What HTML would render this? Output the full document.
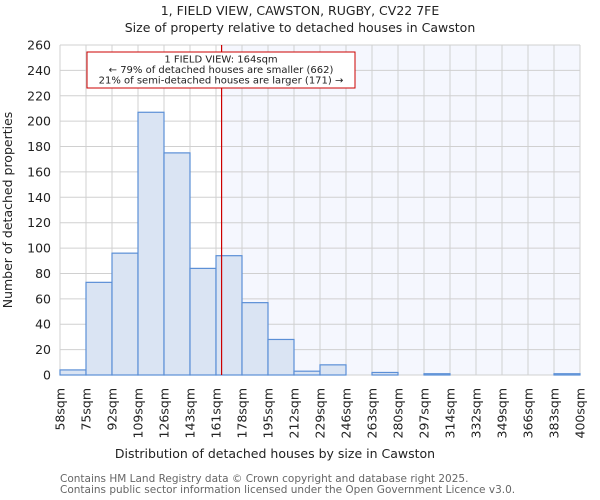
<!DOCTYPE html>
<html><head><meta charset="utf-8"><style>
body{margin:0;background:#fff;}
svg{display:block;font-family:"DejaVu Sans","Liberation Sans",sans-serif;}
</style></head><body>
<svg id="chart" width="600" height="500">
<text x="300" y="15" text-anchor="middle" font-size="12.5" fill="#222">1, FIELD VIEW, CAWSTON, RUGBY, CV22 7FE</text>
<text x="300" y="32" text-anchor="middle" font-size="12.5" fill="#222">Size of property relative to detached houses in Cawston</text>
<g id="plot"></g>
<text x="275" y="458" text-anchor="middle" font-size="12.5" fill="#222">Distribution of detached houses by size in Cawston</text>
<text transform="translate(12,210) rotate(-90)" text-anchor="middle" font-size="12.5" fill="#222">Number of detached properties</text>
<text x="60" y="482" font-size="10.5" fill="#666">Contains HM Land Registry data © Crown copyright and database right 2025.</text>
<text x="60" y="493" font-size="10.5" fill="#666">Contains public sector information licensed under the Open Government Licence v3.0.</text>
</svg>
<script>
const binEdges = [58,75,92,109,126,143,161,178,195,212,229,246,263,280,297,314,332,349,366,383,400];
const counts = [4,73,96,207,175,84,94,57,28,3,8,0,2,0,1,0,0,0,0,1];
const yTicks = [0,20,40,60,80,100,120,140,160,180,200,220,240,260];
const markerValue = 164;

const NS="http://www.w3.org/2000/svg";
const g=document.getElementById('plot');
const L=60,R=580,T=45,B=375,yMax=260;
const nb=counts.length;
const xIdx=i=>L+(R-L)*i/nb;
function xVal(v){let i=0;while(i<nb-1&&v>binEdges[i+1])i++;return xIdx(i+(v-binEdges[i])/(binEdges[i+1]-binEdges[i]));}
const y=v=>B-(B-T)*v/yMax;
function mk(t,a){const e=document.createElementNS(NS,t);for(const k in a)e.setAttribute(k,a[k]);g.appendChild(e);return e;}
const mx=xVal(markerValue)+1;
let e=mk('rect',{x:mx,y:T,width:R-mx,height:B-T,fill:'#f5f7fe'});


for(let i=0;i<=nb;i++){e=mk('line',{x1:xIdx(i),x2:xIdx(i),y1:T,y2:B,stroke:'#d0d0d0','stroke-width':1});

}
yTicks.forEach(v=>{e=mk('line',{x1:L,x2:R,y1:y(v),y2:y(v),stroke:'#d0d0d0','stroke-width':1});


e=mk('text',{x:L-9,y:y(v)+4.5,'text-anchor':'end','font-size':'12.5',fill:'#222'});e.textContent=v;

});
counts.forEach((c,i)=>{if(c<=0)return;e=mk('rect',{x:xIdx(i),y:y(c),width:xIdx(i+1)-xIdx(i),height:B-y(c),fill:'#dae4f3',stroke:'#5b8fd6','stroke-width':1.2});

});
binEdges.forEach((b,i)=>{e=mk('text',{transform:`translate(${xIdx(i)+4.5},388) rotate(-90)`,'text-anchor':'end','font-size':'12.5',fill:'#222'});e.textContent=b+'sqm';

});
e=mk('line',{x1:mx,x2:mx,y1:T,y2:B,stroke:'#cc0000','stroke-width':1.2});


e=mk('rect',{x:87,y:52,width:268,height:36,fill:'#fff',stroke:'#cc0000','stroke-width':1});


['1 FIELD VIEW: 164sqm','← 79% of detached houses are smaller (662)','21% of semi-detached houses are larger (171) →'].forEach((t,i)=>{
e=mk('text',{x:221,y:62.5+i*10.5,'text-anchor':'middle','font-size':'10',fill:'#222'});e.textContent=t;

});
</script>
</body></html>
